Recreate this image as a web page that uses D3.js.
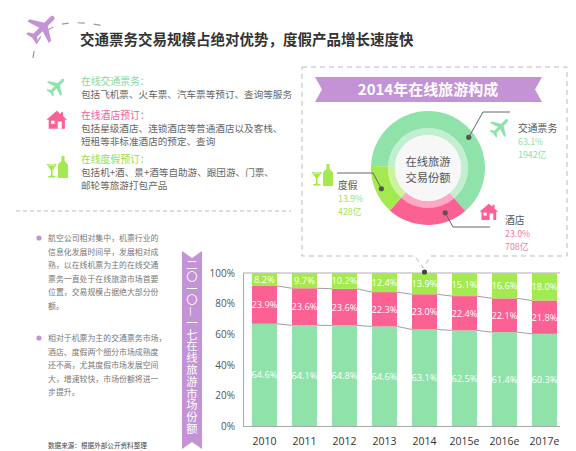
<!DOCTYPE html>
<html>
<head>
<meta charset="utf-8">
<script src="https://cdn.jsdelivr.net/npm/d3@7"></script>
<style>
  body { margin: 0; background: #fff; }
  svg { font-family: "Noto Sans CJK SC", "Noto Sans", sans-serif; }
</style>
</head>
<body>
<div class="chart"></div>
<script>
// ---- data ----
const years = ["2010", "2011", "2012", "2013", "2014", "2015e", "2016e", "2017e"];
const transport = [64.6, 64.1, 64.8, 64.6, 63.1, 62.5, 61.4, 60.3];
const hotel = [23.9, 23.6, 23.6, 22.3, 23.0, 22.4, 22.1, 21.8];
const vacation = [8.2, 9.7, 10.2, 12.4, 13.9, 15.1, 16.6, 18.0];
const yTicks = [0, 0.2, 0.4, 0.6, 0.8, 1];

const shareNames = ["交通票务", "酒店", "度假"];
const shareValues = [63.1, 23.0, 13.9];
const shareAmounts = ["1942亿", "708亿", "428亿"];

const colors = { transport: "#8ee2aa", hotel: "#fb6193", vacation: "#a2ea4f" };
const purple = "#c393d6";

const svg = d3.select(".chart").append("svg")
    .attr("width", 576)
    .attr("height", 451);

// ---- icons (24x24 boxes) ----
const planePath = "M21.5,12 C21.5,10.8 20.5,10.5 19.5,10.5 L14.5,10.5 L9.5,2.5 L7.5,2.5 L10,10.5 L5,10.5 L3,7.5 L1.5,7.5 L2.5,12 L1.5,16.5 L3,16.5 L5,13.5 L10,13.5 L7.5,21.5 L9.5,21.5 L14.5,13.5 L19.5,13.5 C20.5,13.5 21.5,13.2 21.5,12 Z";
const housePath = "M12,2 L0.5,12 L3,12 L3,22 L21,22 L21,12 L23.5,12 L19,8 L19,3.5 L16.5,3.5 L16.5,5.8 Z";
const glassPath = "M0.5,9 L11,9 L6.5,15.5 L6.5,20.5 L9.5,21.3 L9.5,22.5 L2,22.5 L2,21.3 L5,20.5 L5,15.5 Z";
const bottlePath = "M15.5,1 L18.5,1 L18.5,6 C20.5,7.5 22,9 22,11 L22,23 L12,23 L12,11 C12,9 13.5,7.5 15.5,6 Z";

function plane(x, y, s, color) {
    svg.append("g")
        .attr("transform", `translate(${x},${y}) scale(${s}) rotate(-45,12,12)`)
        .append("path").attr("d", planePath).attr("fill", color);
}
function house(x, y, s, color) {
    const g = svg.append("g").attr("transform", `translate(${x},${y}) scale(${s})`);
    g.append("path").attr("d", housePath).attr("fill", color);
    g.append("rect").attr("x", 5.5).attr("y", 13).attr("width", 4).attr("height", 3.5).attr("fill", "#fff");
    g.append("rect").attr("x", 13).attr("y", 14).attr("width", 4.5).attr("height", 8).attr("fill", "#fff");
}
function wine(x, y, s, color) {
    const g = svg.append("g").attr("transform", `translate(${x},${y}) scale(${s})`);
    g.append("path").attr("d", glassPath).attr("fill", color);
    g.append("path").attr("d", "M2.5,10 L9,10").attr("stroke", "#fff").attr("stroke-width", 0.8);
    g.append("path").attr("d", bottlePath).attr("fill", color);
}

// ---- header ----
svg.append("path")
    .attr("d", "M33,58 Q38,12 104,26")
    .attr("fill", "none")
    .attr("stroke", "#999")
    .attr("stroke-width", 1.2)
    .attr("stroke-dasharray", "7,9");
plane(24, 8, 1.6, purple);

svg.append("text")
    .attr("x", 80).attr("y", 45)
    .attr("font-size", 14.5).attr("font-weight", "bold").attr("fill", "#333")
    .text("交通票务交易规模占绝对优势，度假产品增长速度快");

// ---- left legend ----
const legendBlocks = [
    { title: "在线交通票务：", color: "#7fd9a0", y: 85, lines: ["包括飞机票、火车票、汽车票等预订、查询等服务"] },
    { title: "在线酒店预订：", color: "#f0609a", y: 119, lines: ["包括星级酒店、连锁酒店等普通酒店以及客栈、", "短租等非标准酒店的预定、查询"] },
    { title: "在线度假预订：", color: "#94dd4a", y: 163, lines: ["包括机+酒、景+酒等自助游、跟团游、门票、", "邮轮等旅游打包产品"] }
];
legendBlocks.forEach(b => {
    svg.append("text").attr("x", 81).attr("y", b.y)
        .attr("font-size", 9.8).attr("fill", b.color).text(b.title);
    b.lines.forEach((l, i) => {
        svg.append("text").attr("x", 81).attr("y", b.y + 13 + i * 13)
            .attr("font-size", 9.6).attr("fill", "#666").text(l);
    });
});
plane(45, 74, 1.0, colors.transport);
house(46, 109, 0.9, colors.hotel);
wine(46, 155, 1.0, colors.vacation);

svg.append("line")
    .attr("x1", 16).attr("x2", 291).attr("y1", 211).attr("y2", 211)
    .attr("stroke", "#bbb").attr("stroke-dasharray", "4,3");

// ---- bullets ----
const bullet1 = ["航空公司相对集中，机票行业的", "信息化发展时间早，发展相对成", "熟，以在线机票为主的在线交通",
    "票务一直处于在线旅游市场首要", "位置，交易规模占据绝大部分份", "额。"];
const bullet2 = ["相对于机票为主的交通票务市场，", "酒店、度假两个细分市场成熟度", "还不高，尤其度假市场发展空间",
    "大，增速较快，市场份额将进一", "步提升。"];
[[bullet1, 241], [bullet2, 341]].forEach(([lines, y0]) => {
    svg.append("circle").attr("cx", 39).attr("cy", y0 - 3).attr("r", 2.6).attr("fill", purple);
    lines.forEach((l, i) => {
        svg.append("text").attr("x", 48).attr("y", y0 + i * 13.5)
            .attr("font-size", 7.9).attr("fill", "#777").text(l);
    });
});
svg.append("text").attr("x", 48).attr("y", 448)
    .attr("font-size", 6.6).attr("fill", "#444").text("数据来源：根据外部公开资料整理");

// ---- vertical banner ----
svg.append("path")
    .attr("d", "M182,251 L192,258 L202,251 L202,449 L192,442 L182,449 Z")
    .attr("fill", purple);
svg.append("text")
    .attr("x", 192).attr("y", 347)
    .attr("font-size", 11.3).attr("fill", "#fff")
    .attr("text-anchor", "middle")
    .style("writing-mode", "vertical-rl")
    .attr("letter-spacing", 0.5)
    .text("二〇一〇—一七在线旅游市场份额");

// ---- stacked bar chart ----
const keys = ["transport", "hotel", "vacation"];
const rows = years.map((y, i) => ({ year: y, transport: transport[i], hotel: hotel[i], vacation: vacation[i] }));
const series = d3.stack().keys(keys).offset(d3.stackOffsetExpand)(rows);

const xScale = d3.scaleBand().domain(years).range([244.5, 564.5]).paddingInner(0.375).paddingOuter(0.1875);
const yScale = d3.scaleLinear().domain([0, 1]).range([426, 273]);
const bw = xScale.bandwidth();

const yAxis = svg.append("g")
    .attr("transform", "translate(243,0)")
    .call(d3.axisLeft(yScale).tickValues(yTicks).tickFormat(d3.format(".0%")).tickSize(0).tickPadding(8));
yAxis.select(".domain").attr("stroke", "#aaa");
yAxis.selectAll("text").attr("font-size", 10).attr("fill", "#555")
    .attr("font-family", "'Open Sans', 'Noto Sans', sans-serif");

const xAxis = svg.append("g")
    .attr("transform", "translate(0,426)")
    .call(d3.axisBottom(xScale).tickSize(0).tickPadding(12));
xAxis.select(".domain").attr("d", "M243,0.5H560").attr("stroke", "#aaa");
xAxis.selectAll("text").attr("font-size", 10.5).attr("fill", "#333")
    .attr("font-family", "'Open Sans', 'Noto Sans', sans-serif");

// 100% line
svg.append("line")
    .attr("x1", 243).attr("x2", 560)
    .attr("y1", yScale(1)).attr("y2", yScale(1))
    .attr("stroke", "#999").attr("stroke-width", 0.8);

const raw = { transport, hotel, vacation };
series.forEach(s => {
    svg.append("g").selectAll("rect").data(s).join("rect")
        .attr("x", d => xScale(d.data.year))
        .attr("width", bw)
        .attr("y", d => yScale(d[1]))
        .attr("height", d => yScale(d[0]) - yScale(d[1]))
        .attr("fill", colors[s.key]);
});

// connecting lines between bar segments
series.slice(0, 2).forEach(s => {
    const pts = d3.pairs(s);
    svg.append("g").selectAll("line").data(pts).join("line")
        .attr("x1", p => xScale(p[0].data.year) + bw)
        .attr("x2", p => xScale(p[1].data.year))
        .attr("y1", p => yScale(p[0][1]))
        .attr("y2", p => yScale(p[1][1]))
        .attr("stroke", "#888").attr("stroke-width", 0.8);
});

// value labels
series.forEach(s => {
    svg.append("g").selectAll("text").data(s).join("text")
        .attr("x", d => xScale(d.data.year) + bw / 2)
        .attr("y", d => (yScale(d[0]) + yScale(d[1])) / 2 + 3.5)
        .attr("text-anchor", "middle")
        .attr("font-size", 9.3)
        .attr("fill", "#fff")
        .attr("font-family", "'Open Sans', 'Noto Sans', sans-serif")
        .text((d, i) => raw[s.key][i].toFixed(1) + "%");
});

// ---- donut callout box ----
svg.append("path")
    .attr("d", "M302,67 H567 V256 H431 L423,268 L415,256 H302 Z")
    .attr("fill", "none").attr("stroke", "#bbb").attr("stroke-dasharray", "5,4");
svg.append("circle").attr("cx", xScale("2014") + bw / 2).attr("cy", yScale(1) - 1).attr("r", 2.6).attr("fill", "#444");

// ribbon title
svg.append("path")
    .attr("d", "M315,77 H542 L535,89.5 L542,102 H315 L322,89.5 Z")
    .attr("fill", purple);
svg.append("text").attr("x", 428).attr("y", 95)
    .attr("text-anchor", "middle").attr("font-size", 15).attr("font-weight", "bold").attr("fill", "#fff")
    .text("2014年在线旅游构成");

// ---- donut ----
const cx = 428, cy = 168;
const pie = d3.pie().sort(null).startAngle(-88 * Math.PI / 180).endAngle(272 * Math.PI / 180);
const arcs = pie(shareValues);
const sliceColors = [colors.transport, colors.hotel, colors.vacation];
const donut = svg.append("g").attr("transform", `translate(${cx},${cy})`);
donut.selectAll("path.outer").data(arcs).join("path")
    .attr("class", "outer")
    .attr("d", d3.arc().innerRadius(40).outerRadius(57))
    .attr("fill", (d, i) => sliceColors[i]);
donut.selectAll("path.inner").data(arcs).join("path")
    .attr("class", "inner")
    .attr("d", d3.arc().innerRadius(33).outerRadius(40))
    .attr("fill", (d, i) => sliceColors[i])
    .attr("opacity", 0.55);
donut.append("circle").attr("r", 33).attr("fill", "#f7f7f7");
donut.append("text").attr("y", -2).attr("text-anchor", "middle").attr("font-size", 11.3).attr("fill", "#555").text("在线旅游");
donut.append("text").attr("y", 14).attr("text-anchor", "middle").attr("font-size", 11.3).attr("fill", "#555").text("交易份额");

// leader lines
const leaders = [
    { a: 53, r: 51, pts: [[483, 112], [510, 112]] },
    { a: 159, r: 48, pts: [[453, 227], [490, 227]] },
    { a: 246, r: 51, pts: [[373, 173], [337, 173]] }
];
leaders.forEach(l => {
    const p = d3.pointRadial(l.a * Math.PI / 180, l.r);
    const start = [cx + p[0], cy + p[1]];
    svg.append("path")
        .attr("d", d3.line()([start, ...l.pts]))
        .attr("fill", "none").attr("stroke", "#666").attr("stroke-width", 1);
    svg.append("circle").attr("cx", start[0]).attr("cy", start[1]).attr("r", 2.6).attr("fill", "#555");
});

// donut labels
const labelPos = [[518, 132], [505, 224], [338, 189]];
const labelColors = ["#8ee2aa", "#f27aa3", "#a2e25a"];
labelPos.forEach(([x, y], i) => {
    svg.append("text").attr("x", x).attr("y", y).attr("font-size", 9.8).attr("fill", "#555").text(shareNames[i]);
    svg.append("text").attr("x", x).attr("y", y + 13).attr("font-size", 8.8).attr("fill", labelColors[i])
        .text(shareValues[i].toFixed(1) + "%");
    svg.append("text").attr("x", x).attr("y", y + 26).attr("font-size", 8.8).attr("fill", labelColors[i])
        .text(shareAmounts[i]);
});
plane(488, 114, 1.05, colors.transport);
house(479, 202, 0.82, colors.hotel);
wine(311, 163, 1.0, colors.vacation);
</script>
</body>
</html>
